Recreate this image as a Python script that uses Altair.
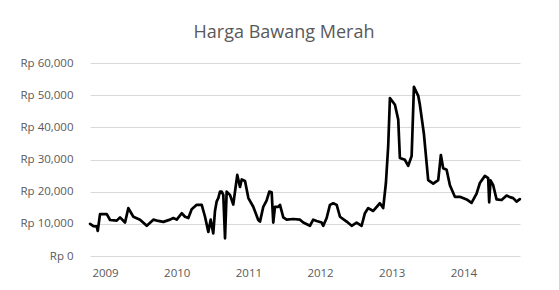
import altair as alt
import pandas as pd

# decimal year of each observation
years = [
    2008.791, 2008.837, 2008.884, 2008.898, 2008.930, 2009.024, 2009.070, 2009.163,
    2009.209, 2009.279, 2009.325, 2009.395, 2009.488, 2009.582, 2009.674, 2009.743,
    2009.813, 2009.907, 2009.953, 2010.000, 2010.070, 2010.116, 2010.162, 2010.209,
    2010.279, 2010.349, 2010.395, 2010.441, 2010.474, 2010.510, 2010.534, 2010.558,
    2010.580, 2010.604, 2010.628, 2010.650, 2010.674, 2010.697, 2010.743, 2010.789,
    2010.845, 2010.883, 2010.907, 2010.953, 2011.000, 2011.068, 2011.138, 2011.162,
    2011.208, 2011.255, 2011.292, 2011.325, 2011.347, 2011.371, 2011.417, 2011.441,
    2011.487, 2011.534, 2011.626, 2011.720, 2011.766, 2011.859, 2011.905, 2011.953,
    2012.022, 2012.045, 2012.092, 2012.138, 2012.184, 2012.232, 2012.278, 2012.371,
    2012.441, 2012.510, 2012.580, 2012.626, 2012.672, 2012.742, 2012.835, 2012.881,
    2012.919, 2012.951, 2012.975, 2013.045, 2013.091, 2013.114, 2013.184, 2013.230,
    2013.278, 2013.310, 2013.370, 2013.393, 2013.449, 2013.509, 2013.579, 2013.649,
    2013.686, 2013.718, 2013.766, 2013.812, 2013.881, 2013.951, 2014.045, 2014.114,
    2014.184, 2014.230, 2014.300, 2014.346, 2014.360, 2014.379, 2014.416, 2014.463,
    2014.533, 2014.603, 2014.649, 2014.695, 2014.742, 2014.788,
]

# harga (Rp)
prices = [
    10000, 9300, 9200, 7800, 13000, 13000, 11200, 11000,
    12000, 10400, 14900, 12200, 11300, 9400, 11300, 10900,
    10600, 11300, 11800, 11300, 13300, 12200, 11800, 14500,
    15900, 15900, 12200, 7500, 11300, 7000, 14000, 17000,
    18000, 20000, 20000, 19000, 5500, 20000, 19000, 16000,
    25200, 21500, 23800, 23300, 18000, 15300, 11200, 10700,
    15300, 17300, 20000, 19800, 10400, 15300, 15300, 15900,
    12000, 11300, 11500, 11300, 10400, 9400, 11300, 10900,
    10400, 9400, 11800, 15900, 16400, 15900, 12200, 10700,
    9400, 10400, 9400, 13300, 14900, 14000, 16400, 14900,
    22700, 34200, 49100, 47000, 42400, 30500, 29900, 28000,
    31100, 52600, 49800, 47000, 38000, 23600, 22500, 23600,
    31400, 27300, 26800, 22000, 18400, 18400, 17600, 16500,
    19400, 22700, 24900, 24200, 16700, 23500, 22000, 17600,
    17400, 18800, 18300, 18000, 16900, 17700,
]

year_ticks = [2009, 2010, 2011, 2012, 2013, 2014]
price_ticks = [0, 10000, 20000, 30000, 40000, 50000, 60000]

df = pd.DataFrame({"tahun": years, "harga": prices})

FONT = "Open Sans"
GREY = "#595959"

chart = (
    alt.Chart(df)
    .mark_line(color="black", strokeWidth=2.7, strokeJoin="round", strokeCap="round")
    .encode(
        x=alt.X(
            "tahun:Q",
            scale=alt.Scale(domain=[2008.79, 2014.79], nice=False, zero=False),
            axis=alt.Axis(
                values=year_ticks, format="d", title=None, grid=False, domain=False,
                ticks=False, labelPadding=11, labelFont=FONT, labelFontSize=11.5,
                labelColor=GREY,
            ),
        ),
        y=alt.Y(
            "harga:Q",
            scale=alt.Scale(domain=[0, 60000], nice=False),
            axis=alt.Axis(
                values=price_ticks, title=None, domain=False, ticks=False,
                labelExpr="'Rp ' + format(datum.value, ',')",
                labelPadding=17, labelFont=FONT, labelFontSize=11.5, labelColor=GREY,
                gridColor="#d9d9d9", gridWidth=1,
            ),
        ),
    )
    .properties(
        width=430,
        height=193,
        title=alt.TitleParams(
            "Harga Bawang Merah", font=FONT, fontSize=18, fontWeight="normal",
            color=GREY, anchor="middle", dx=-21, offset=15,
        ),
        autosize=alt.AutoSizeParams(type="none"),
        padding={"left": 82, "top": 55, "right": 29, "bottom": 27},
    )
    .configure(background="white", view=alt.ViewConfig(stroke="transparent", strokeWidth=0))
)

chart.save("out.html", embed_options={"renderer": "svg", "actions": False})
